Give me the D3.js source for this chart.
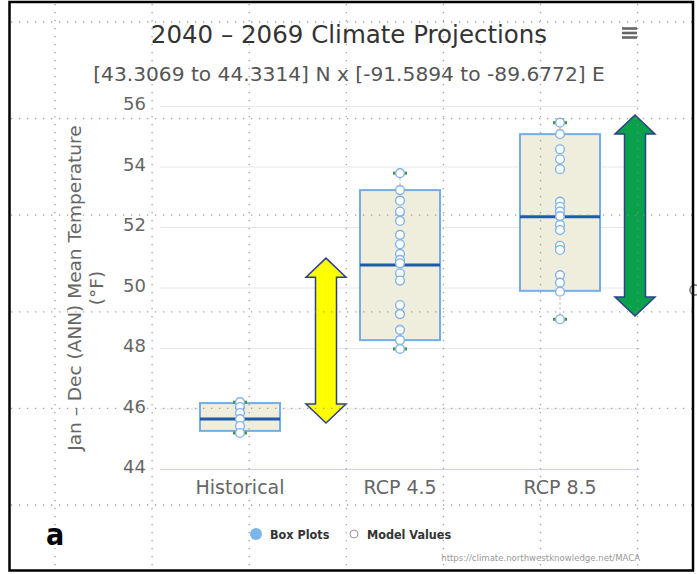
<!DOCTYPE html>
<html>
<head>
<meta charset="utf-8">
<script src="https://cdn.jsdelivr.net/npm/d3@7"></script>
<style>
  html, body { margin: 0; padding: 0; background: #fff; }
  svg { display: block; }
  text { font-family: "DejaVu Sans", "Noto Sans", sans-serif; }
</style>
</head>
<body>
<svg id="chart" width="697" height="574"></svg>
<script>
// Categories and box-plot summaries (°F)
const categories = ["Historical", "RCP 4.5", "RCP 8.5"];
const boxLow    = [45.19, 47.97, 48.95];
const boxQ1     = [45.26, 48.26, 49.89];
const boxMedian = [45.65, 50.74, 52.34];
const boxQ3     = [46.18, 53.22, 55.07];
const boxHigh   = [46.21, 53.78, 55.45];

// Individual model values per scenario
const modelHistorical = [46.21, 46.05, 45.85, 45.65, 45.42, 45.19];
const modelRcp45 = [53.78, 53.22, 52.87, 52.51, 52.20, 51.74, 51.43, 51.11, 50.91,
                    50.80, 50.47, 50.23, 49.42, 49.12, 48.60, 48.26, 47.97];
const modelRcp85 = [55.45, 55.07, 54.57, 54.24, 53.91, 52.84, 52.67, 52.51, 52.36,
                    52.07, 51.90, 51.38, 51.24, 50.41, 50.16, 49.86, 48.95];
const modelValues = [modelHistorical, modelRcp45, modelRcp85];

// Y axis ticks
const yTicks = [44, 46, 48, 50, 52, 54, 56];

// Change ranges highlighted with double arrows (°F)
const arrowFrom = [45.52, 49.06];
const arrowTo   = [50.97, 55.70];

const svg = d3.select("#chart");
const plot = { left: 160, right: 640, top: 106, bottom: 469 };

const x = d3.scaleBand().domain(categories).range([plot.left, plot.right]).padding(0);
const y = d3.scaleLinear().domain([44, 56]).range([plot.bottom, plot.top]);

// Title & subtitle
svg.append("text").attr("x", 349).attr("y", 43).attr("text-anchor", "middle")
  .attr("fill", "#333").style("font-size", "24.5px")
  .text("2040 – 2069 Climate Projections");
svg.append("text").attr("x", 349).attr("y", 81).attr("text-anchor", "middle")
  .attr("fill", "#555").style("font-size", "20.2px")
  .text("[43.3069 to 44.3314] N x [-91.5894 to -89.6772] E");

// Context menu icon
const menu = svg.append("g").attr("stroke", "#666").attr("stroke-width", 2.6);
[28.5, 33, 37.5].forEach(yy => menu.append("line")
  .attr("x1", 622).attr("x2", 637).attr("y1", yy).attr("y2", yy));

// Grid lines
svg.append("g").selectAll("line").data(yTicks).join("line")
  .attr("x1", plot.left).attr("x2", plot.right)
  .attr("y1", d => y(d) + 0.5).attr("y2", d => y(d) + 0.5)
  .attr("stroke", "#e6e6e6").attr("stroke-width", 1);
svg.append("line").attr("x1", plot.left).attr("x2", plot.right)
  .attr("y1", plot.bottom + 0.5).attr("y2", plot.bottom + 0.5)
  .attr("stroke", "#ccd6eb");

// Y axis labels
const yAxis = d3.axisLeft(y).tickValues(yTicks).tickSize(0).tickPadding(14).tickFormat(d3.format("d"));
const gy = svg.append("g").attr("transform", `translate(${plot.left},0)`).call(yAxis);
gy.select(".domain").remove();
gy.selectAll("text").attr("fill", "#666").style("font-size", "18px")
  .style("font-family", "DejaVu Sans, sans-serif").attr("dy", "0.2em");

// X axis labels
const xAxis = d3.axisBottom(x).tickSize(0).tickPadding(12);
const gx = svg.append("g").attr("transform", `translate(0,${plot.bottom})`).call(xAxis);
gx.select(".domain").remove();
gx.selectAll("text").attr("fill", "#666").style("font-size", "19px")
  .style("font-family", "DejaVu Sans, sans-serif");

// Y axis title
const yt = svg.append("text").attr("transform", "translate(81,288) rotate(-90)")
  .attr("text-anchor", "middle").attr("fill", "#666").style("font-size", "18.5px");
yt.append("tspan").attr("x", 0).attr("dy", 0).text("Jan – Dec (ANN) Mean Temperature");
yt.append("tspan").attr("x", 0).attr("dy", 22).text("(°F)");

// Box plots
const boxW = x.bandwidth() * 0.5;
const boxes = svg.append("g");
categories.forEach((c, i) => {
  const cx = x(c) + x.bandwidth() / 2;
  const g = boxes.append("g");
  // stems
  g.append("line").attr("x1", cx).attr("x2", cx)
    .attr("y1", y(boxHigh[i])).attr("y2", y(boxLow[i]))
    .attr("stroke", "#b9a9a9").attr("stroke-width", 1).attr("stroke-dasharray", "2,3");
  g.append("rect").attr("x", cx - boxW / 2).attr("width", boxW)
    .attr("y", y(boxQ3[i])).attr("height", y(boxQ1[i]) - y(boxQ3[i]))
    .attr("fill", "#efeedd").attr("stroke", "#74aee6").attr("stroke-width", 2);
  g.append("line").attr("x1", cx - boxW / 2).attr("x2", cx + boxW / 2)
    .attr("y1", y(boxMedian[i])).attr("y2", y(boxMedian[i]))
    .attr("stroke", "#1f5ba8").attr("stroke-width", 3);
  [boxHigh[i], boxLow[i]].forEach(v => g.append("line")
    .attr("x1", cx - 7).attr("x2", cx + 7).attr("y1", y(v)).attr("y2", y(v))
    .attr("stroke", "#3f9a35").attr("stroke-width", 3));
  // model values
  g.selectAll("circle").data(modelValues[i]).join("circle")
    .attr("cx", cx).attr("cy", d => y(d)).attr("r", 4.4)
    .attr("fill", "#fff").attr("stroke", "#7fb3ea").attr("stroke-width", 1.4);
});

// Double arrows spanning projected change
function doubleArrow(cx, v0, v1, fill) {
  const yTop = y(v1), yBot = y(v0);
  const head = 19, hw = 20, sw = 10.5;
  const pts = [
    [cx, yTop], [cx + hw, yTop + head], [cx + sw, yTop + head],
    [cx + sw, yBot - head], [cx + hw, yBot - head], [cx, yBot],
    [cx - hw, yBot - head], [cx - sw, yBot - head], [cx - sw, yTop + head],
    [cx - hw, yTop + head]
  ];
  svg.append("polygon").attr("points", pts.map(p => p.join(",")).join(" "))
    .attr("fill", fill).attr("stroke", "#2e3f8c").attr("stroke-width", 1.5)
    .attr("stroke-linejoin", "miter");
}
doubleArrow(x(categories[1]) + 6, arrowFrom[0], arrowTo[0], "#ffff00");
doubleArrow(x(categories[2]) + x.bandwidth() / 2 + 75, arrowFrom[1], arrowTo[1], "#0aa14b");

// Legend
const legendFont = "'DejaVu Sans Condensed', 'DejaVu Sans', sans-serif";
svg.append("circle").attr("cx", 256).attr("cy", 534).attr("r", 6).attr("fill", "#7cb5ec");
svg.append("text").attr("x", 270).attr("y", 538.5).attr("fill", "#333")
  .style("font-family", legendFont)
  .style("font-weight", "bold").style("font-size", "12.5px").text("Box Plots");
svg.append("circle").attr("cx", 354).attr("cy", 534).attr("r", 4).attr("fill", "#fff")
  .attr("stroke", "#999").attr("stroke-width", 1);
svg.append("text").attr("x", 367).attr("y", 538.5).attr("fill", "#333")
  .style("font-family", legendFont)
  .style("font-weight", "bold").style("font-size", "12.5px").text("Model Values");

// Credits
svg.append("text").attr("x", 640).attr("y", 561).attr("text-anchor", "end").attr("fill", "#999")
  .style("font-family", legendFont)
  .style("font-size", "9.5px").text("https://climate.northwestknowledge.net/MACA");

// Panel letter
svg.append("text").attr("x", 46).attr("y", 545).attr("fill", "#000")
  .style("font-family", "'Liberation Sans Narrow', 'DejaVu Sans Condensed', sans-serif")
  .style("font-weight", "bold").style("font-size", "30px").text("a");

// Partial marker at the right edge
svg.append("circle").attr("cx", 695).attr("cy", 290).attr("r", 5).attr("fill", "none")
  .attr("stroke", "#888").attr("stroke-width", 1.8);

// Dotted layout grid
const gridX = d3.range(55, 690, 97.1);
const gridY = d3.range(22, 570, 96.6);
const dots = svg.append("g").attr("stroke", "#8c8c8c").attr("stroke-width", 1.3)
  .attr("stroke-dasharray", "1.3,6.7").attr("opacity", 0.8);
gridX.forEach(gx0 => dots.append("line").attr("x1", gx0).attr("x2", gx0).attr("y1", 4).attr("y2", 570));
gridY.forEach(gy0 => dots.append("line").attr("x1", 11).attr("x2", 692).attr("y1", gy0).attr("y2", gy0));

// Frame
svg.append("rect").attr("x", 9.5).attr("y", 2).attr("width", 683.5).attr("height", 568.5)
  .attr("fill", "none").attr("stroke", "#000").attr("stroke-width", 2.5);
</script>
</body>
</html>
